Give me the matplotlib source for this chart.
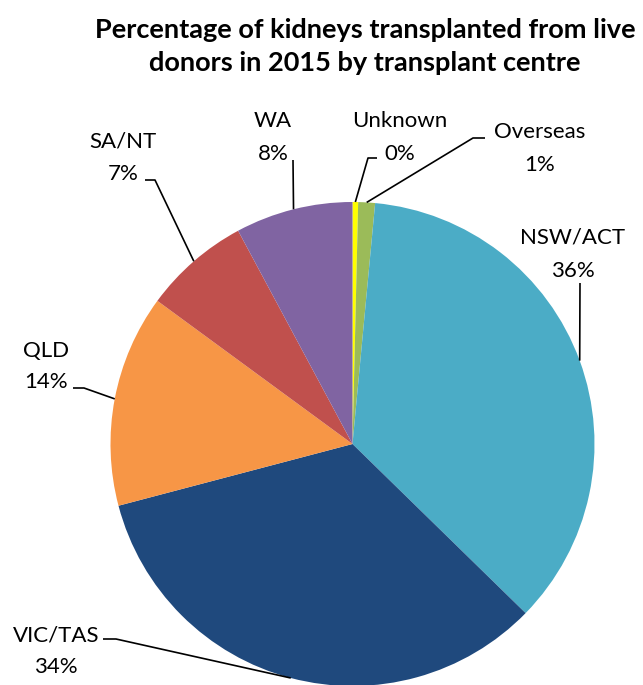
import numpy as np
import matplotlib
matplotlib.use("Agg")
import matplotlib.pyplot as plt

# ---- data (clockwise from 12 o'clock) ----
categories = ["Unknown", "Overseas", "NSW/ACT", "VIC/TAS", "QLD", "SA/NT", "WA"]
counts = [1, 3, 96, 90, 38, 19, 21]
colors = ["#FFFF00", "#9BBB59", "#4BACC6", "#1F497D", "#F79646", "#C0504D", "#8064A2"]
title = "Percentage of kidneys transplanted from live\ndonors in 2015 by transplant centre"

W, H = 643, 685
FONT = "Lato"

fig = plt.figure(figsize=(W / 100, H / 100), dpi=100)
ax = fig.add_axes([0, 0, 1, 1])

cx, cy, R = 352.5, H - 444, 242
wedges, _ = ax.pie(counts, colors=colors, startangle=90, counterclock=False,
                   center=(cx, cy), radius=R, frame=True,
                   wedgeprops=dict(linewidth=0))
ax.set_xlim(0, W)
ax.set_ylim(0, H)
ax.set_aspect("equal")
ax.axis("off")

total = sum(counts)
pcts = [f"{round(100 * c / total):d}%" for c in counts]

# label layout: centre x, name baseline y, pct baseline y (pixels from top),
# leader line points from label side (pixels from top)
layout = {
    "Unknown":  (400, 127, 160, [(377, 158), (368, 158)]),
    "Overseas": (540, 138, 171, [(485, 138), (473, 138)]),
    "NSW/ACT":  (573, 243, 277, [(580, 283)]),
    "VIC/TAS":  (56, 642, 673, [(103, 639), (116, 639)]),
    "QLD":      (46.5, 357, 388, [(73, 388), (84, 388)]),
    "SA/NT":    (123, 147, 180, [(145, 180), (155, 180)]),
    "WA":       (273, 127, 160, [(293, 160)]),
}

fs = 16
for w, cat, pct in zip(wedges, categories, pcts):
    x0, yn, yp, pts = layout[cat]
    ax.text(x0, H - yn, cat, ha="center", va="baseline", fontsize=fs,
            family=FONT, color="black")
    ax.text(x0, H - yp, pct, ha="center", va="baseline", fontsize=fs,
            family=FONT, color="black")
    mid = np.deg2rad((w.theta1 + w.theta2) / 2)
    ax_, ay_ = cx + R * np.cos(mid), cy + R * np.sin(mid)
    xs = [p[0] for p in pts] + [ax_]
    ys = [H - p[1] for p in pts] + [ay_]
    ax.plot(xs, ys, color="black", lw=1.2, solid_capstyle="butt")

ax.text(365, H - 30, "Percentage of kidneys transplanted from live", ha="center",
        va="center", fontsize=19.5, fontweight="bold", family=FONT)
ax.text(365, H - 63, "donors in 2015 by transplant centre", ha="center",
        va="center", fontsize=19.5, fontweight="bold", family=FONT)

fig.savefig("out.png", dpi=100)
